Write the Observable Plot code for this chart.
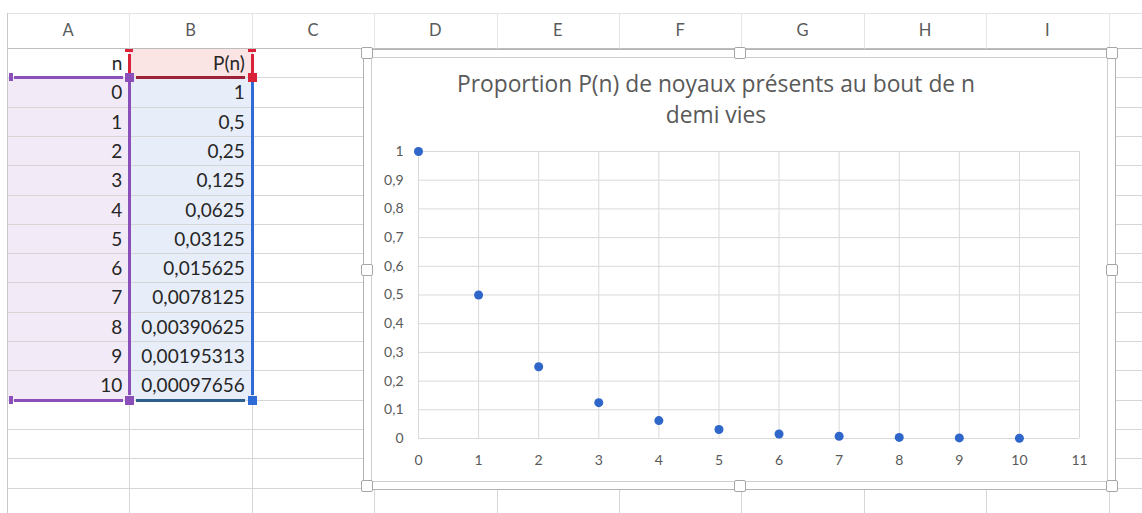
<!DOCTYPE html>
<html>
<head>
<meta charset="utf-8">
<script src="https://cdn.jsdelivr.net/npm/d3@7"></script>
<script src="https://cdn.jsdelivr.net/npm/@observablehq/plot@0.6"></script>
<style>
  html, body { margin: 0; padding: 0; background: #fff; }
  body { width: 1142px; height: 513px; position: relative; overflow: hidden; font-family: Lato, "Open Sans", sans-serif; }
  .abs { position: absolute; }
  .hl { position: absolute; height: 1px; background: #d6d6d6; }
  .vl { position: absolute; width: 1px; background: #d6d6d6; }
  .colhdr { position: absolute; top: 13px; height: 35px; line-height: 35px; text-align: center; color: #5a5a5a; font-size: 16.5px; }
  .cell { position: absolute; height: 29px; line-height: 30px; text-align: right; color: #262626; font-size: 19px; box-sizing: border-box; padding-right: 7px; }
  .handle { position: absolute; width: 12px; height: 12px; background: #fff; border: 1px solid #a6a6a6; border-radius: 2px; box-sizing: border-box; }
  #title { position: absolute; left: 372px; top: 68px; width: 688px; text-align: center; color: #595959; font-family: "Open Sans", Lato, sans-serif; font-size: 22.8px; line-height: 31px; }
  #chart { position: absolute; left: 372px; top: 135px; }
</style>
</head>
<body>
<div id="sheet"></div>
<div id="title">Proportion P(n) de noyaux présents au bout de n<br>demi vies</div>
<div id="chart"></div>
<script>
// ---- data ----
const columnLetters = ["A", "B", "C", "D", "E", "F", "G", "H", "I"];
const headerN = "n";
const headerP = "P(n)";
const nValues = [0, 1, 2, 3, 4, 5, 6, 7, 8, 9, 10];
const pValues = [1, 0.5, 0.25, 0.125, 0.0625, 0.03125, 0.015625, 0.0078125, 0.00390625, 0.001953125, 0.0009765625];
const pCellText = ["1", "0,5", "0,25", "0,125", "0,0625", "0,03125", "0,015625", "0,0078125", "0,00390625", "0,00195313", "0,00097656"];
const xTicks = [0, 1, 2, 3, 4, 5, 6, 7, 8, 9, 10, 11];
const yTicks = [0, 0.1, 0.2, 0.3, 0.4, 0.5, 0.6, 0.7, 0.8, 0.9, 1];

// ---- spreadsheet background ----
const sheet = document.getElementById("sheet");
const colW = 122.4, col0 = 7, hdrTop = 13, hdrBot = 48, rowH = 29.3;
const colX = i => col0 + i * colW;
const rowTop = r => hdrBot + (r - 1) * rowH; // r = 1-based row
function box(cls, x, y, w, h, bg, extra) {
  const d = document.createElement("div");
  d.className = cls;
  d.style.left = x + "px"; d.style.top = y + "px";
  if (w != null) d.style.width = w + "px";
  if (h != null) d.style.height = h + "px";
  if (bg) d.style.background = bg;
  if (extra) Object.assign(d.style, extra);
  sheet.appendChild(d);
  return d;
}
// fills of the selected ranges
box("abs", colX(0) + 1, rowTop(2), colW - 1, rowH * nValues.length, "#f3eaf7");
box("abs", colX(1), rowTop(2), colW, rowH * nValues.length, "#e8eef9");
box("abs", colX(1), rowTop(1), colW, rowH, "#fbe4e4");
// horizontal grid lines
box("hl", col0, hdrTop, 1142 - col0, 1, "#e2e2e2");
box("hl", col0, hdrBot, 1142 - col0, 1, "#bdbdbd");
for (let r = 2; r <= 17; r++) box("hl", col0, rowTop(r), 1142 - col0, 1);
// vertical grid lines
box("vl", col0, hdrTop, 1, 513 - hdrTop, "#c9c9c9");
for (let i = 1; i <= columnLetters.length; i++) {
  box("vl", colX(i), hdrTop, 1, hdrBot - hdrTop, "#e4e4e4");
  box("vl", colX(i), hdrBot, 1, 513 - hdrBot);
}
// column letters
columnLetters.forEach((c, i) => { const d = box("colhdr", colX(i), hdrTop, colW); d.textContent = c; });
// cells
function cell(ci, r, text) {
  const d = box("cell", colX(ci), rowTop(r), colW);
  d.textContent = text;
}
cell(0, 1, headerN);
cell(1, 1, headerP);
nValues.forEach((v, k) => { cell(0, k + 2, String(v)); cell(1, k + 2, pCellText[k]); });

// selection borders
const purple = "#8a4fb8", red = "#d9213a", blue = "#2f6bd6";
const yTopSel = rowTop(2), yBotSel = rowTop(2 + nValues.length);
// purple (A2:A12)
box("abs", 14, yTopSel - 1, colX(1) - 20, 3, purple);
box("abs", 14, yBotSel - 1, colX(1) - 20, 3, purple);
box("abs", colX(1) - 1, yTopSel + 5, 3, yBotSel - yTopSel - 10, purple);
box("abs", col0 + 2, yTopSel - 4, 4, 8, purple);
box("abs", col0 + 2, yBotSel - 4, 4, 8, purple);
box("abs", colX(1) - 4, yTopSel - 4, 9, 9, purple);
box("abs", colX(1) - 4, yBotSel - 4, 9, 9, purple);
// red (B1)
[colX(1), colX(2)].forEach(x => {
  box("abs", x - 4, rowTop(1) + 1, 8, 3, red);
  box("abs", x - 1, rowTop(1) + 6, 3, 19, red);
});
box("abs", colX(1) + 7, yTopSel - 1, colW - 14, 3, "#9c2238");
box("abs", colX(2) - 4, yTopSel - 4, 9, 9, red);
// blue (B2:B12)
box("abs", colX(2) - 1, yTopSel + 5, 3, yBotSel - yTopSel - 10, blue);
box("abs", colX(1) + 7, yBotSel - 1, colW - 14, 3, "#2c5f8c");
box("abs", colX(2) - 4, yBotSel - 4, 9, 9, blue);

// ---- chart frame ----
const fL = 363, fT = 49, fR = 1116, fB = 490;
box("abs", fL, fT, fR - fL, fB - fT, "#fff", { border: "1px solid #b3b3b3", boxSizing: "border-box" });
box("abs", fL + 8, fT + 8, fR - fL - 16, fB - fT - 16, "#fff", { border: "1px solid #cfcfcf", boxSizing: "border-box" });
const hx = [fL + 4, (fL + fR) / 2, fR - 4], hy = [fT + 4, (fT + fB) / 2, fB - 4];
hx.forEach((x, i) => hy.forEach((y, j) => {
  if (i === 1 && j === 1) return;
  box("handle", x - 6, y - 6);
}));
document.body.appendChild(document.getElementById("title"));
document.body.appendChild(document.getElementById("chart"));

// ---- chart ----
const data = nValues.map((n, i) => ({ n, p: pValues[i] }));
const comma = d => String(d).replace(".", ",");
const plot = Plot.plot({
  width: 730,
  height: 340,
  marginLeft: 46,
  marginRight: 23,
  marginTop: 16,
  marginBottom: 37,
  style: { fontFamily: "Lato, 'Open Sans', sans-serif", fontSize: "14px", color: "#595959", background: "transparent", overflow: "visible" },
  x: { domain: [0, 11], ticks: xTicks, tickSize: 0, tickPadding: 17, tickFormat: comma, label: null },
  y: { domain: [0, 1], ticks: yTicks, tickSize: 0, tickPadding: 15, tickFormat: comma, label: null },
  marks: [
    Plot.gridX(xTicks, { stroke: "#d9d9d9", strokeOpacity: 1 }),
    Plot.gridY(yTicks, { stroke: "#d9d9d9", strokeOpacity: 1 }),
    Plot.axisX({ ticks: xTicks, tickSize: 0, tickPadding: 17, tickFormat: comma, label: null, fill: "#595959" }),
    Plot.axisY({ ticks: yTicks, tickSize: 0, tickPadding: 15, tickFormat: comma, label: null, fill: "#595959" }),
    Plot.dot(data, { x: "n", y: "p", r: 4.5, fill: "#2f66c9", stroke: "none" })
  ]
});
document.getElementById("chart").appendChild(plot);
</script>
</body>
</html>
